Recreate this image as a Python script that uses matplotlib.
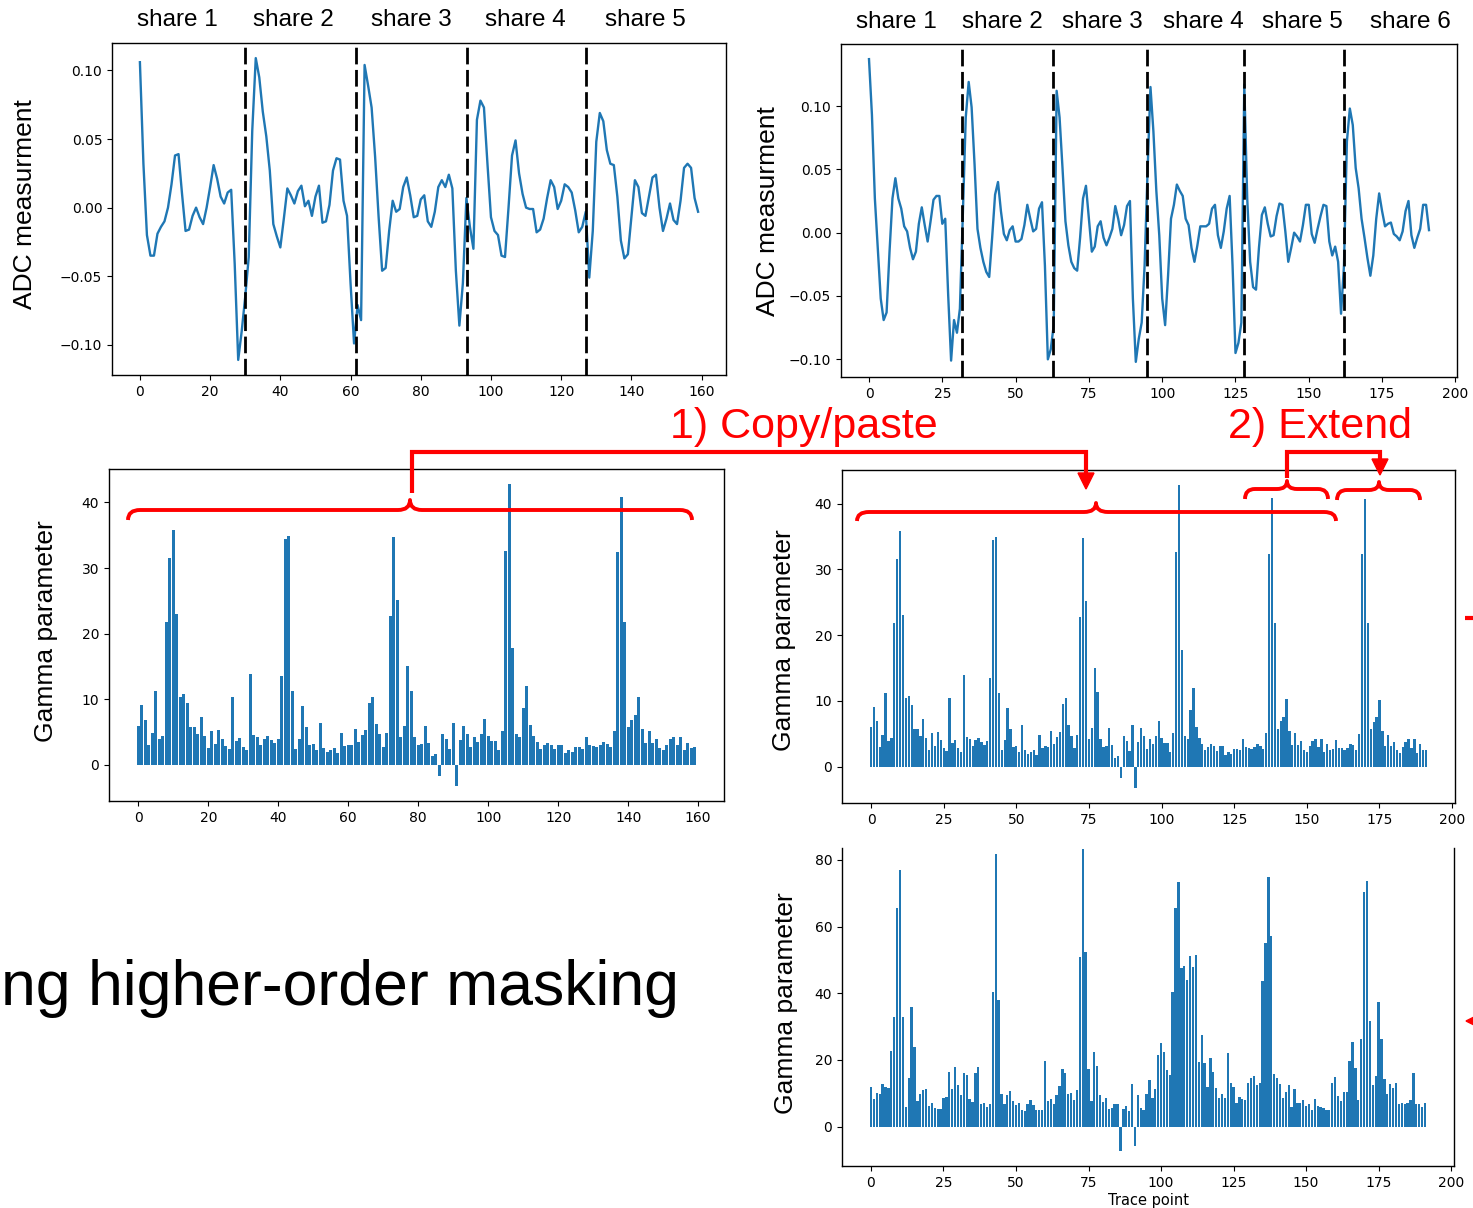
import matplotlib.pyplot as plt
import matplotlib.transforms as mtransforms
from matplotlib.lines import Line2D
from matplotlib.patches import PathPatch, Polygon
from matplotlib.path import Path

# ADC trace, 5 shares (160 points)
adc_5shares = [
    0.106, 0.032, -0.020, -0.035, -0.035, -0.019, -0.014, -0.010, 0.000, 0.017,
    0.038, 0.039, 0.010, -0.017, -0.016, -0.006, 0.000, -0.007, -0.012, 0.000,
    0.015, 0.031, 0.021, 0.008, 0.003, 0.011, 0.013, -0.041, -0.111, -0.090,
    -0.065, -0.036, 0.056, 0.109, 0.095, 0.070, 0.052, 0.027, -0.012, -0.021,
    -0.029, -0.008, 0.014, 0.009, 0.003, 0.012, 0.016, 0.001, 0.005, -0.006,
    0.008, 0.016, -0.011, -0.010, 0.002, 0.027, 0.036, 0.035, 0.005, -0.006,
    -0.055, -0.099, -0.071, -0.082, 0.104, 0.089, 0.073, 0.037, -0.007, -0.046,
    -0.044, -0.017, 0.005, -0.003, -0.001, 0.015, 0.022, 0.009, -0.007, -0.006,
    0.006, 0.009, -0.010, -0.014, -0.003, 0.015, 0.020, 0.015, 0.024, 0.014,
    -0.046, -0.086, -0.055, 0.007, -0.014, -0.030, 0.064, 0.078, 0.073, 0.032,
    -0.007, -0.017, -0.020, -0.035, -0.036, 0.000, 0.038, 0.049, 0.025, 0.010,
    0.000, -0.001, -0.001, -0.018, -0.016, -0.008, 0.007, 0.020, 0.015, -0.001,
    0.005, 0.017, 0.015, 0.011, -0.002, -0.018, -0.014, -0.003, -0.051, -0.017,
    0.048, 0.069, 0.063, 0.042, 0.032, 0.031, 0.008, -0.024, -0.037, -0.034,
    -0.007, 0.020, 0.015, -0.004, -0.006, 0.008, 0.022, 0.024, 0.000, -0.017,
    -0.008, 0.003, -0.009, -0.012, 0.005, 0.029, 0.032, 0.029, 0.007, -0.003,
]
bounds_5shares = [30, 61.5, 93.3, 127.0]

# ADC trace, 6 shares (192 points)
adc_6shares = [
    0.137, 0.093, 0.027, -0.012, -0.052, -0.069, -0.063, -0.015, 0.027, 0.043,
    0.027, 0.019, 0.005, 0.001, -0.012, -0.021, -0.015, 0.007, 0.020, 0.006,
    -0.007, 0.009, 0.026, 0.029, 0.029, 0.007, 0.011, -0.049, -0.101, -0.069,
    -0.079, -0.060, 0.014, 0.091, 0.119, 0.099, 0.054, 0.003, -0.012, -0.023,
    -0.031, -0.035, -0.004, 0.030, 0.040, 0.017, -0.001, -0.006, 0.002, 0.005,
    -0.007, -0.007, -0.005, 0.006, 0.022, 0.011, 0.001, 0.003, 0.019, 0.024,
    -0.026, -0.100, -0.092, -0.073, 0.112, 0.091, 0.051, 0.009, -0.010, -0.023,
    -0.028, -0.030, -0.004, 0.027, 0.037, 0.011, -0.015, -0.011, 0.005, 0.009,
    -0.004, -0.010, -0.004, 0.003, 0.021, 0.011, -0.002, 0.006, 0.021, 0.025,
    -0.052, -0.102, -0.084, -0.071, -0.026, 0.048, 0.115, 0.080, 0.033, -0.002,
    -0.052, -0.073, -0.034, 0.011, 0.022, 0.038, 0.033, 0.029, 0.011, 0.006,
    -0.012, -0.023, -0.010, 0.005, 0.005, 0.005, 0.007, 0.019, 0.022, -0.002,
    -0.012, 0.001, 0.019, 0.029, -0.026, -0.095, -0.087, -0.071, 0.117, 0.027,
    -0.023, -0.043, -0.045, -0.012, 0.014, 0.020, 0.007, -0.003, -0.002, 0.013,
    0.023, 0.022, 0.001, -0.023, -0.012, 0.000, -0.003, -0.007, 0.006, 0.022,
    0.022, -0.001, -0.008, 0.003, 0.013, 0.022, 0.021, -0.007, -0.018, -0.011,
    -0.023, -0.064, -0.026, 0.072, 0.098, 0.085, 0.051, 0.035, 0.011, -0.004,
    -0.020, -0.034, -0.018, 0.011, 0.031, 0.017, 0.005, 0.007, 0.008, -0.001,
    -0.003, -0.006, 0.001, 0.017, 0.025, -0.002, -0.012, -0.004, 0.003, 0.022,
    0.022, 0.002,
]
bounds_6shares = [31.6, 62.7, 94.8, 128.0, 161.9]

# Gamma parameter, 5 shares (160 points)
gamma_5shares = [
    6.0, 9.1, 6.9, 3.0, 4.8, 11.2, 3.9, 4.4, 21.8, 31.6,
    35.8, 23.0, 10.4, 10.8, 9.4, 5.8, 5.8, 4.7, 7.3, 4.4,
    2.6, 5.2, 3.2, 5.3, 4.0, 2.9, 2.4, 10.4, 3.6, 4.1,
    2.8, 2.3, 13.9, 4.6, 4.3, 3.1, 4.0, 4.4, 3.8, 3.3,
    3.9, 13.5, 34.5, 34.9, 11.2, 2.5, 4.0, 9.0, 5.8, 3.0,
    3.2, 2.2, 6.4, 2.6, 2.0, 2.2, 2.6, 1.8, 4.8, 2.9,
    3.1, 3.0, 5.4, 3.5, 4.5, 5.3, 9.5, 10.4, 6.3, 4.7,
    2.8, 4.8, 22.7, 34.8, 25.2, 4.2, 5.9, 15.0, 11.3, 4.2,
    3.0, 3.2, 5.9, 3.3, 1.3, 1.7, -1.7, 4.7, 3.9, 2.4,
    6.4, -3.2, 3.8, 5.9, 4.7, 2.7, 4.3, 3.5, 4.7, 7.0,
    4.4, 3.6, 3.6, 2.2, 5.1, 32.6, 42.8, 17.8, 4.7, 4.3,
    8.6, 12.0, 6.1, 4.4, 3.5, 2.5, 3.0, 3.4, 3.1, 2.4,
    3.1, 3.1, 1.8, 2.3, 1.9, 2.7, 2.7, 2.5, 4.2, 3.0,
    2.9, 2.7, 3.0, 3.5, 3.2, 2.7, 5.1, 32.4, 40.8, 21.8,
    5.8, 6.9, 7.6, 10.3, 5.5, 3.3, 5.1, 3.3, 3.9, 2.6,
    2.2, 3.1, 3.9, 4.3, 3.0, 4.3, 2.2, 3.4, 2.6, 2.7,
]

# Gamma parameter for the pasted extra share (points 160-191)
gamma_share6 = [
    4.1, 2.9, 2.9, 2.5, 2.9, 3.5, 3.3, 2.6, 5.0, 32.3,
    40.7, 21.8, 5.8, 6.8, 7.5, 10.2, 5.4, 3.2, 4.9, 3.2,
    3.8, 2.6, 2.1, 3.0, 3.8, 4.2, 2.9, 4.2, 2.1, 3.4,
    2.6, 2.6,
]

# Gamma parameter, real 6-share traces (192 points)
gamma_6shares = [
    12.0, 8.4, 10.2, 9.9, 12.9, 11.9, 11.7, 22.7, 32.9, 65.5,
    77.1, 32.9, 5.9, 14.7, 35.9, 23.9, 7.7, 9.7, 10.9, 11.2,
    6.2, 7.2, 5.7, 5.3, 5.3, 8.5, 8.9, 16.4, 11.3, 17.9,
    12.6, 9.4, 16.0, 15.5, 8.4, 7.5, 16.0, 17.9, 6.9, 7.1,
    5.9, 6.7, 40.5, 81.8, 38.0, 9.7, 6.9, 9.5, 10.7, 7.7,
    6.4, 7.2, 5.1, 4.7, 6.9, 7.9, 6.4, 4.9, 4.9, 5.1,
    19.7, 7.7, 8.4, 6.7, 9.5, 12.3, 17.2, 16.1, 9.7, 10.1,
    8.1, 11.0, 50.8, 83.3, 52.5, 17.4, 7.7, 22.4, 18.2, 9.5,
    7.4, 8.6, 5.4, 5.7, 6.7, 6.9, -7.3, 5.3, 6.1, 4.7,
    12.9, -5.9, 9.5, 5.7, 4.9, 9.7, 13.9, 8.5, 11.2, 21.4,
    25.2, 22.4, 17.1, 15.5, 40.3, 65.6, 73.3, 47.7, 48.3, 44.1,
    51.2, 47.9, 51.5, 19.3, 27.4, 19.1, 12.0, 20.6, 16.4, 11.5,
    8.6, 9.7, 8.7, 22.0, 13.0, 12.0, 7.1, 9.0, 8.3, 8.1,
    13.1, 14.5, 15.2, 12.5, 13.0, 43.7, 55.1, 75.0, 57.3, 15.9,
    14.7, 12.7, 8.7, 10.3, 12.5, 5.8, 11.2, 7.0, 7.1, 7.9,
    6.2, 6.9, 5.1, 8.2, 6.1, 5.9, 5.5, 4.9, 5.1, 13.2,
    15.0, 9.1, 7.7, 10.4, 10.4, 19.7, 25.5, 17.7, 7.9, 26.2,
    70.3, 73.8, 31.6, 12.5, 15.2, 37.3, 26.3, 14.4, 9.9, 12.9,
    11.6, 13.1, 6.7, 7.2, 6.7, 7.1, 8.0, 16.1, 6.7, 6.9,
    5.9, 7.1,
]

share_labels_5 = ["share 1", "share 2", "share 3", "share 4", "share 5"]
share_labels_6 = ["share 1", "share 2", "share 3", "share 4", "share 5", "share 6"]

W, H = 1473, 1208
BLUE = "#1f77b4"
RED = "#ff0000"
SLIDE_FONT = ["Liberation Sans", "DejaVu Sans"]


def px_rect(left, top, right, bottom):
    """pixel box (from top-left) -> figure fraction rect"""
    return [left / W, 1 - bottom / H, (right - left) / W, (bottom - top) / H]


def fpt(x, y):
    return (x / W, 1 - y / H)


def style_axes(ax):
    for spine in ax.spines.values():
        spine.set_linewidth(1.0)
    ax.tick_params(labelsize=10)


def trace_panel(fig, rect, values, bounds, labels, label_x, label_y, label_coords):
    ax = fig.add_axes(rect)
    ax.plot(range(len(values)), values, color=BLUE, linewidth=1.7)
    for b in bounds:
        ax.axvline(b, color="black", linestyle=(0, (6, 2)), linewidth=2)
    style_axes(ax)
    ax.set_ylabel("ADC measurment", fontsize=19, family=SLIDE_FONT)
    ax.yaxis.label.set_verticalalignment("center")
    ax.yaxis.set_label_coords(*label_coords)

    # share names over each segment (x in data units)
    trans = mtransforms.blended_transform_factory(ax.transData, fig.transFigure)
    for xc, name in zip(label_x, labels):
        ax.text(xc, 1 - label_y / H, name, transform=trans, ha="center",
                va="center", fontsize=17.5, family=SLIDE_FONT)
    return ax


def gamma_panel(fig, rect, values, label_coords):
    ax = fig.add_axes(rect)
    ax.bar(range(len(values)), values, color=BLUE)
    style_axes(ax)
    ax.set_ylabel("Gamma parameter", fontsize=19, family=SLIDE_FONT)
    ax.yaxis.label.set_verticalalignment("center")
    ax.yaxis.set_label_coords(*label_coords)
    return ax


def brace(fig, x0, x1, xc, y_end, y_line, y_cusp, r=11):
    verts = [
        (x0, y_end), (x0, y_line), (x0 + r, y_line),
        (xc - r, y_line), (xc, y_line), (xc, y_cusp),
        (xc, y_line), (xc + r, y_line),
        (x1 - r, y_line), (x1, y_line), (x1, y_end),
    ]
    codes = [
        Path.MOVETO, Path.CURVE3, Path.CURVE3,
        Path.LINETO, Path.CURVE3, Path.CURVE3,
        Path.CURVE3, Path.CURVE3,
        Path.LINETO, Path.CURVE3, Path.CURVE3,
    ]
    path = Path([fpt(x, y) for x, y in verts], codes)
    fig.add_artist(PathPatch(path, facecolor="none", edgecolor=RED,
                             linewidth=2.8, transform=fig.transFigure,
                             capstyle="butt", joinstyle="round"))


def connector(fig, points, head):
    xs, ys = zip(*[fpt(x, y) for x, y in points])
    fig.add_artist(Line2D(xs, ys, color=RED, linewidth=3, transform=fig.transFigure,
                          solid_joinstyle="miter", solid_capstyle="butt"))
    if head is not None:
        hx, top, tip = head
        tri = [fpt(hx - 8, top), fpt(hx + 8, top), fpt(hx, tip)]
        fig.add_artist(Polygon(tri, closed=True, color=RED, transform=fig.transFigure))


def main():
    fig = plt.figure(figsize=(W / 100, H / 100), dpi=100)

    trace_panel(fig, px_rect(112, 43, 726, 375), adc_5shares, bounds_5shares,
                share_labels_5, [10.8, 43.8, 77.2, 109.9, 144.1], 20,
                (-0.1417, 0.515))
    trace_panel(fig, px_rect(841, 44, 1457, 377), adc_6shares, bounds_6shares,
                share_labels_6, [9.3, 45.4, 79.7, 114.1, 147.8, 184.5], 22,
                (-0.1185, 0.497))

    gamma_panel(fig, px_rect(109, 469, 724, 801), gamma_5shares, (-0.1024, 0.512))
    gamma_panel(fig, px_rect(842, 470, 1455, 803), gamma_5shares + gamma_share6,
                (-0.0946, 0.489))

    ax5 = gamma_panel(fig, px_rect(842, 848, 1454, 1166), gamma_6shares,
                      (-0.0915, 0.513))
    ax5.set_ylim(top=83.6)
    ax5.spines["top"].set_visible(False)
    ax5.set_xlabel("Trace point", fontsize=10.5, labelpad=2)

    # annotations
    brace(fig, 128, 692, 410, 520, 510, 500, r=12)
    brace(fig, 857, 1336, 1096, 521, 512, 503, r=12)
    brace(fig, 1245, 1328, 1287, 499, 489, 481, r=10)
    brace(fig, 1337, 1420, 1379, 500, 490, 482, r=10)

    connector(fig, [(412, 493), (412, 452), (1086, 452), (1086, 475)],
              (1086, 473, 489))
    connector(fig, [(1287, 478), (1287, 452), (1380, 452), (1380, 461)],
              (1380, 459, 475))

    fig.text(*fpt(670, 438), "1) Copy/paste", color=RED, fontsize=31,
             family=SLIDE_FONT, ha="left", va="baseline")
    fig.text(*fpt(1228, 438), "2) Extend", color=RED, fontsize=31,
             family=SLIDE_FONT, ha="left", va="baseline")

    # bits of the slide cut off at the right edge
    connector(fig, [(1465, 618), (1475, 618)], None)
    fig.add_artist(Polygon([fpt(1466, 1021), fpt(1478, 1015), fpt(1478, 1027)],
                           closed=True, color=RED, transform=fig.transFigure))

    fig.text(*fpt(1, 1005), "ng higher-order masking", fontsize=45,
             family=SLIDE_FONT, ha="left", va="baseline")

    fig.savefig("out.png", dpi=100)


if __name__ == "__main__":
    main()
